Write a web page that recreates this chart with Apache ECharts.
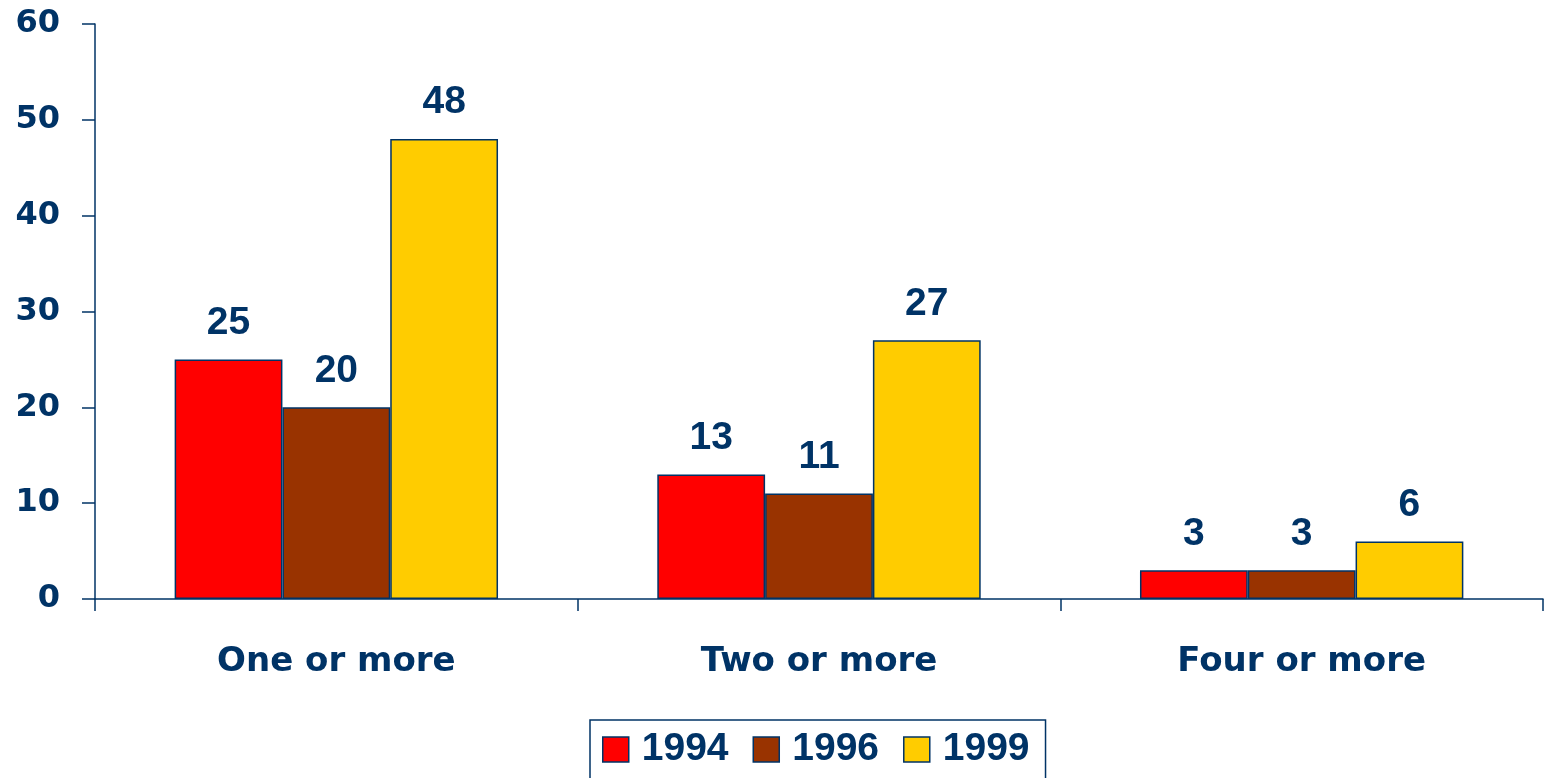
<!DOCTYPE html>
<html>
<head>
<meta charset="utf-8">
<script src="https://cdn.jsdelivr.net/npm/echarts@6/dist/echarts.min.js"></script>
<style>
  html, body { margin: 0; padding: 0; background: #fff; }
  #main { width: 1547px; height: 778px; }
</style>
</head>
<body>
<div id="main"></div>
<script>
var categories = ['One or more', 'Two or more', 'Four or more'];
var years = ['1994', '1996', '1999'];
var values1994 = [25, 13, 3];
var values1996 = [20, 11, 3];
var values1999 = [48, 27, 6];
var colors = ['#ff0000', '#993300', '#ffcc00'];

var navy = '#003366';
var font = 'Liberation Sans, Arial, sans-serif';
// axis texts in the picture are drawn wider, DejaVu is the closest wide face
var wideFont = 'DejaVu Sans, sans-serif';

var chartDom = document.getElementById('main');
var myChart = echarts.init(chartDom);

function makeSeries(name, data, color) {
  return {
    name: name,
    type: 'bar',
    data: data,
    barGap: '0%',
    barCategoryGap: '33%',
    itemStyle: {
      color: color,
      borderColor: navy,
      borderWidth: 1.5
    },
    label: {
      show: true,
      position: 'top',
      distance: 17,
      color: navy,
      fontWeight: 'bold',
      fontSize: 39,
      fontFamily: font
    }
  };
}

var option = {
  animation: false,
  grid: {
    left: 95,
    right: 4,
    top: 24,
    bottom: 179
  },
  legend: {
    data: years,
    left: 590,
    top: 720,
    itemWidth: 26,
    itemHeight: 25,
    itemGap: 24,
    padding: [10, 16, 20, 12],
    borderColor: navy,
    borderWidth: 1.5,
    icon: 'rect',
    itemStyle: { borderColor: navy, borderWidth: 1.5 },
    textStyle: {
      color: navy,
      fontWeight: 'bold',
      fontSize: 39,
      fontFamily: font,
      padding: [0, 0, 0, 8]
    }
  },
  xAxis: {
    type: 'category',
    data: categories,
    axisLine: { lineStyle: { color: navy, width: 1.5 } },
    axisTick: { show: true, length: 12, lineStyle: { color: navy, width: 1.5 } },
    axisLabel: {
      margin: 46,
      color: navy,
      fontWeight: 'bold',
      fontSize: 34,
      fontFamily: wideFont
    }
  },
  yAxis: {
    type: 'value',
    min: 0,
    max: 60,
    interval: 10,
    splitLine: { show: false },
    axisLine: { show: true, lineStyle: { color: navy, width: 1.5 } },
    axisTick: { show: true, length: 13, lineStyle: { color: navy, width: 1.5 } },
    axisLabel: {
      margin: 35,
      color: navy,
      fontWeight: 'bold',
      fontSize: 32,
      fontFamily: wideFont
    }
  },
  series: [
    makeSeries(years[0], values1994, colors[0]),
    makeSeries(years[1], values1996, colors[1]),
    makeSeries(years[2], values1999, colors[2])
  ]
};

myChart.setOption(option);
</script>
</body>
</html>
